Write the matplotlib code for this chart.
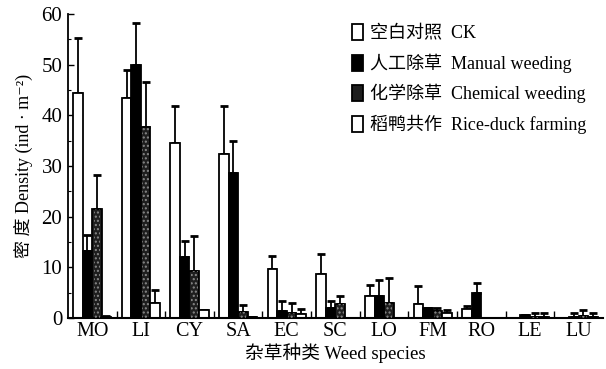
import matplotlib

matplotlib.use("Agg")
import matplotlib.pyplot as plt
import numpy as np
from matplotlib.patches import Patch

species = ["MO", "LI", "CY", "SA", "EC", "SC", "LO", "FM", "RO", "LE", "LU"]
treatments = ["空白对照  CK", "人工除草  Manual weeding", "化学除草  Chemical weeding", "稻鸭共作  Rice-duck farming"]

ck = [44.5, 43.4, 34.6, 32.4, 9.7, 8.6, 4.3, 2.7, 1.8, 0.0, 0.0]
ck_err = [10.8, 5.6, 7.2, 9.4, 2.6, 4.1, 2.2, 3.6, 0.6, 0.0, 0.0]
manual = [13.3, 50.0, 12.0, 28.7, 1.4, 2.0, 4.3, 2.0, 5.0, 0.6, 0.3]
manual_err = [3.0, 8.2, 3.2, 6.2, 2.0, 1.3, 3.2, 0.0, 2.0, 0.0, 0.7]
chemical = [21.5, 37.8, 9.3, 1.2, 1.0, 2.8, 2.9, 1.4, 0.0, 0.3, 0.5]
chemical_err = [6.7, 8.7, 6.8, 1.4, 1.9, 1.5, 5.1, 0.6, 0.0, 0.8, 1.0]
riceduck = [0.3, 3.0, 1.5, 0.2, 0.8, 0.0, 0.0, 1.0, 0.0, 0.3, 0.2]
riceduck_err = [0.2, 2.6, 0.0, 0.0, 1.0, 0.0, 0.0, 0.6, 0.0, 0.7, 0.8]

SERIF = ["Liberation Serif", "Noto Sans CJK SC", "DejaVu Serif"]
plt.rcParams["font.family"] = SERIF
plt.rcParams["hatch.linewidth"] = 1.0

fig = plt.figure(figsize=(6.06, 3.69), dpi=100)
ax = fig.add_axes([0.112, 0.138, 0.883, 0.824])

x = np.arange(len(species))
w = 0.196
offsets = np.array([-1.5, -0.5, 0.5, 1.5]) * w
series = [(ck, ck_err), (manual, manual_err), (chemical, chemical_err), (riceduck, riceduck_err)]
faces = ["white", "black", "#1e1e1e", "white"]

for k, (vals, errs) in enumerate(series):
    vals = np.array(vals)
    errs = np.array(errs)
    ax.errorbar(x + offsets[k], vals, yerr=[np.zeros_like(errs), errs], fmt="none",
                ecolor="black", elinewidth=1.3, capsize=2.6, capthick=2.0, zorder=1)
    ax.bar(x + offsets[k], vals, width=w, color=faces[k], edgecolor="black", linewidth=1.3, zorder=2)
    if k == 2:
        ax.bar(x + offsets[k], vals, width=w * 0.7, fill=False, hatch="....",
               edgecolor="#8a8a8a", linewidth=0, zorder=3)

ax.set_xlim(-0.5, 10.5)
ax.set_ylim(0, 60)
ax.set_yticks(np.arange(0, 61, 10))
ax.set_yticks(np.arange(0, 61, 5), minor=True)
ax.set_xticks(x)
ax.set_xticklabels(species)
ax.set_xticks(x[:-1] + 0.5, minor=True)

for side in ["top", "right"]:
    ax.spines[side].set_visible(False)
ax.spines["left"].set_linewidth(1.3)
ax.spines["bottom"].set_linewidth(1.5)
ax.tick_params(axis="y", which="major", direction="in", length=4, width=1.0, labelsize=15, pad=4)
ax.tick_params(axis="y", which="minor", direction="in", length=2, width=0.8)
ax.tick_params(axis="x", which="major", length=0, labelsize=14.5, pad=3)
ax.tick_params(axis="x", which="minor", direction="in", length=5, width=1.0)

ax.set_ylabel("密 度 Density (ind · m⁻²)", fontsize=13, labelpad=6)
ax.set_xlabel("杂草种类 Weed species", fontsize=13.5, labelpad=1)

handles = [
    Patch(facecolor="white", edgecolor="black", linewidth=1.3),
    Patch(facecolor="black", edgecolor="black", linewidth=1.3),
    Patch(facecolor="#1e1e1e", edgecolor="black", linewidth=1.3),
    Patch(facecolor="white", edgecolor="black", linewidth=1.3),
]
ax.legend(handles, treatments, loc="upper right", bbox_to_anchor=(1.0, 1.02), frameon=False,
          fontsize=13, handlelength=0.6, handleheight=1.0, handletextpad=0.4, labelspacing=0.62)

fig.savefig("out.png", dpi=100)
